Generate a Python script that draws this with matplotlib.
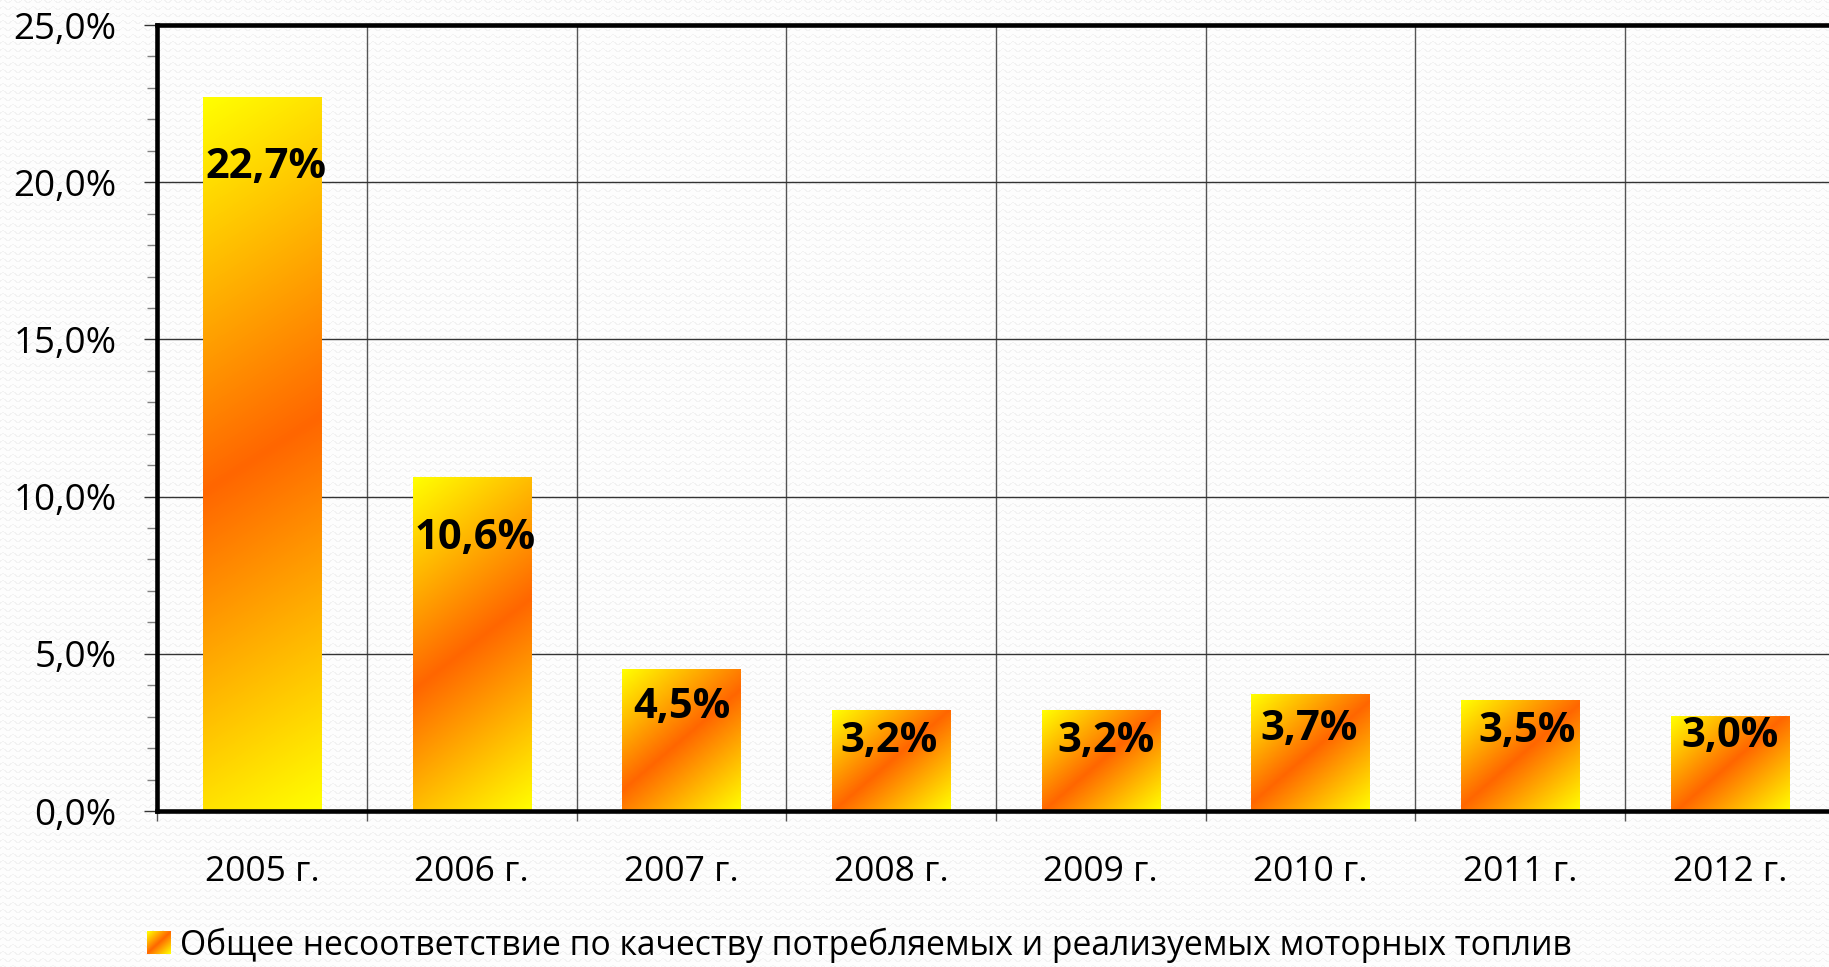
import numpy as np
import matplotlib
matplotlib.use('Agg')
import matplotlib.pyplot as plt
from matplotlib.colors import LinearSegmentedColormap, Normalize
from matplotlib.ticker import FuncFormatter, FixedLocator, MultipleLocator
from matplotlib.legend_handler import HandlerBase
from matplotlib.image import BboxImage
from matplotlib.transforms import Bbox, TransformedBbox
from matplotlib.patches import Patch

# ---------------- data ----------------
categories = ['2005 г.', '2006 г.', '2007 г.', '2008 г.', '2009 г.', '2010 г.', '2011 г.', '2012 г.']
values = [22.7, 10.6, 4.5, 3.2, 3.2, 3.7, 3.5, 3.0]
series_name = 'Общее несоответствие по качеству потребляемых и реализуемых моторных топлив'
y_major_ticks = [0, 5, 10, 15, 20, 25]

# label placement (pixel offsets from bar top, styling only)
label_dx = [4, 3, 0, -2, 5.5, -1.5, 7, 0]
label_dy = [-81, -71, -48, -42, -42, -45, -41, -30]

FONT = ['Open Sans', 'DejaVu Sans']
plt.rcParams['font.family'] = FONT

W, H = 1829, 967
fig = plt.figure(figsize=(W / 100, H / 100), dpi=100)
fig.patch.set_facecolor('#FDFDFD')

# faint wavy background texture
yy, xx = np.mgrid[0:H, 0:W]
phase = (yy + 1.5 * np.sin(2 * np.pi * xx / 10.0)) % 7.0
bg = np.full((H, W, 3), 0.993)
bg[phase < 1.2] = 0.95
fig.figimage(bg, xo=0, yo=0, zorder=-1)

ax = fig.add_axes([157.3 / W, (H - 811) / H, (1834.7 - 157.3) / W, (811 - 25) / H])
ax.set_facecolor('none')

cmap = LinearSegmentedColormap.from_list('fire', [(0, '#FFFF00'), (0.5, '#FF6600'), (1, '#FFFF00')])

x = np.arange(len(categories))
bars = ax.bar(x, values, width=0.563, color='none', edgecolor='none', zorder=2)
ax.set_xlim(-0.5, len(categories) - 0.5)
ax.set_ylim(0, 25)


def gradient(wpx, hpx):
    r = hpx / wpx
    a = np.deg2rad(42.5 - 1.6 * r)
    nx, ny = max(int(round(wpx)), 2), max(int(round(hpx)), 2)
    X, Y = np.meshgrid(np.linspace(0, wpx, nx), np.linspace(0, hpx, ny))
    p = X * np.sin(a) - Y * np.cos(a)
    p_tl = -hpx * np.cos(a)
    p_br = wpx * np.sin(a)
    return (p - p_tl) / (p_br - p_tl)


for b in bars:
    x0, y0, bw, bh = b.get_x(), b.get_y(), b.get_width(), b.get_height()
    (px0, py0), (px1, py1) = ax.transData.transform([(x0, y0), (x0 + bw, y0 + bh)])
    t = gradient(px1 - px0, py1 - py0)
    ax.imshow(t, cmap=cmap, vmin=0, vmax=1, extent=(x0, x0 + bw, y0, y0 + bh),
              origin='lower', aspect='auto', interpolation='bilinear', zorder=2)

ax.set_xlim(-0.5, len(categories) - 0.5)
ax.set_ylim(0, 25)

# value labels
for i, (b, v) in enumerate(zip(bars, values)):
    ax.annotate(f'{v:.1f}'.replace('.', ',') + '%',
                xy=(b.get_x() + b.get_width() / 2, v),
                xytext=(label_dx[i], label_dy[i]), textcoords='offset pixels',
                ha='center', va='baseline', fontsize=30, fontweight='bold',
                color='black', zorder=5)

# axes / ticks
ax.yaxis.set_major_locator(FixedLocator(y_major_ticks))
ax.yaxis.set_minor_locator(MultipleLocator(1))
ax.yaxis.set_major_formatter(FuncFormatter(lambda v, p: f'{v:.1f}'.replace('.', ',') + '%'))
ax.xaxis.set_major_locator(FixedLocator(np.arange(-0.5, len(categories), 1.0)))
ax.xaxis.set_minor_locator(FixedLocator(x))
ax.xaxis.set_major_formatter(FuncFormatter(lambda v, p: ''))
ax.xaxis.set_minor_formatter(FuncFormatter(lambda v, p: categories[int(round(v))]))

ax.tick_params(axis='y', which='major', direction='out', length=9.4, width=1.0,
               color='#333333', labelsize=26.5, pad=20, labelcolor='black')
ax.tick_params(axis='y', which='minor', direction='out', length=7, width=1.0, color='#808080')
ax.tick_params(axis='x', which='major', direction='out', length=7.2, width=1.0, color='#555555')
ax.tick_params(axis='x', which='minor', length=0, labelsize=25.5, pad=32, labelcolor='black')

ax.set_axisbelow(True)
ax.grid(True, axis='y', which='major', color='#333333', lw=1.0)
ax.grid(True, axis='x', which='major', color='#555555', lw=1.0)

for s in ['top', 'left', 'bottom']:
    ax.spines[s].set_linewidth(3.3)
    ax.spines[s].set_color('black')
ax.spines['right'].set_visible(False)


# legend with gradient swatch
class GradientHandler(HandlerBase):
    def create_artists(self, legend, orig_handle, xdescent, ydescent, width, height, fontsize, trans):
        bb = TransformedBbox(Bbox.from_bounds(-xdescent, -ydescent, width, height), trans)
        img = BboxImage(bb, cmap=cmap, norm=Normalize(0, 1), interpolation='bilinear', origin='lower')
        img.set_data(gradient(24, 22))
        return [img]


LEG_FS = 24.2
px_per_em = LEG_FS * 100 / 72
handle = Patch(facecolor='#FF6600', label=series_name)
fig.legend(handles=[handle], labels=[series_name], handler_map={Patch: GradientHandler()},
           loc='center left', bbox_to_anchor=(147 / W, 1 - 945 / H), frameon=False,
           borderpad=0, borderaxespad=0, fontsize=LEG_FS, handlelength=24 / px_per_em,
           handleheight=22 / px_per_em, handletextpad=9 / px_per_em)

fig.savefig('out.png', dpi=100, facecolor=fig.get_facecolor())
